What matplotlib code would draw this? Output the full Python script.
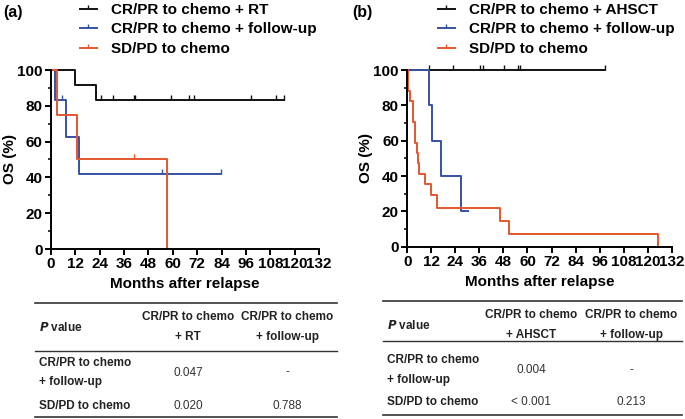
import matplotlib
matplotlib.use('Agg')
import matplotlib.pyplot as plt
from matplotlib.lines import Line2D

plt.rcParams['font.family'] = ['Liberation Sans', 'DejaVu Sans']
plt.rcParams['font.weight'] = 'bold'

BLACK = '#111111'
BLUE = '#3552a3'
RED = '#e4572e'

# --- panel (a) ---
a_rt_t = [0, 12, 22, 115]
a_rt_s = [100, 91.7, 83.3, 83.3]
a_rt_cens = [24.6, 30.5, 40.7, 41.5, 59, 68, 70.3, 98.5, 111, 115]

a_fu_t = [0, 1.8, 7.6, 13.9, 83.7]
a_fu_s = [100, 83.3, 62.5, 41.7, 41.7]
a_fu_cens_t = [5.5, 54.7, 83.7]
a_fu_cens_s = [83.3, 41.7, 41.7]

a_sd_t = [0, 2.8, 13.0, 57.3]
a_sd_s = [100, 75, 50, 0]
a_sd_cens_t = [41]
a_sd_cens_s = [50]

# --- panel (b) ---
b_ah_t = [0, 98.7]
b_ah_s = [100, 100]
b_ah_cens = [10.8, 22.6, 36.3, 37.6, 48.4, 55.4, 56.3, 98.7]

b_fu_t = [0, 11.0, 12.5, 16.8, 26.8, 30.5]
b_fu_s = [100, 80, 60, 40, 20, 20]

b_sd_t = [0, 0.3, 1.4, 2.7, 3.8, 4.7, 5.2, 5.8, 8.9, 12.0, 14.7, 46.3, 50.6, 125.3]
b_sd_s = [100, 88.2, 82.4, 70.6, 58.8, 52.9, 47.1, 41.2, 35.3, 29.4, 22.1, 14.7, 7.4, 0]

labels_a = ['CR/PR to chemo + RT', 'CR/PR to chemo + follow-up', 'SD/PD to chemo']
labels_b = ['CR/PR to chemo + AHSCT', 'CR/PR to chemo + follow-up', 'SD/PD to chemo']

# p value tables
tab_a_cols = [('CR/PR to chemo', '+ RT'), ('CR/PR to chemo', '+ follow-up')]
tab_a_vals = [['0.047', '-'], ['0.020', '0.788']]
tab_b_cols = [('CR/PR to chemo', '+ AHSCT'), ('CR/PR to chemo', '+ follow-up')]
tab_b_vals = [['0.004', '-'], ['< 0.001', '0.213']]
row_labels = [('CR/PR to chemo', '+ follow-up'), ('SD/PD to chemo',)]

W, H = 685, 419
fig = plt.figure(figsize=(W / 100, H / 100), dpi=100)


def px(x0, y0, x1, y1):
    return [x0 / W, 1 - y1 / H, (x1 - x0) / W, (y1 - y0) / H]


def style_axes(ax):
    ax.set_xlim(0, 132)
    ax.set_ylim(0, 100)
    ax.set_xticks(range(0, 133, 12))
    ax.set_yticks(range(0, 101, 20))
    ax.set_yticks(range(10, 100, 20), minor=True)
    for s in ['top', 'right']:
        ax.spines[s].set_visible(False)
    for s in ['left', 'bottom']:
        ax.spines[s].set_linewidth(1.4)
    ax.tick_params(which='major', length=4, width=1.4, labelsize=11, pad=2)
    ax.tick_params(which='minor', length=2.5, width=1.1)
    for lab in ax.get_xticklabels() + ax.get_yticklabels():
        lab.set_fontweight('bold')
    ax.set_xlabel('Months after relapse', fontsize=11, fontweight='bold', labelpad=4)
    ax.set_ylabel('OS (%)', fontsize=11, fontweight='bold', labelpad=0)


def km(ax, t, s, color):
    ax.step(t, s, where='post', color=color, lw=1.4, clip_on=False)


def cens(ax, t, s, color):
    ax.plot(t, s, linestyle='none', marker=2, markersize=3.5, mew=1.0,
            color=color, clip_on=False)


def legend(ax, labels, x0):
    handles = [Line2D([0], [0], color=c, lw=1.4, marker=2, markersize=3, mew=1.0)
               for c in [BLACK, BLUE, RED]]
    fig.legend(handles, labels, loc='upper left',
               bbox_to_anchor=(x0 / W, 1 - 3 / H), frameon=False,
               prop={'size': 11, 'weight': 'bold'}, numpoints=1,
               handlelength=1.1, handletextpad=0.95, labelspacing=0.36,
               borderpad=0, borderaxespad=0)


# panel a
ax1 = fig.add_axes(px(51, 70, 319, 249))
km(ax1, a_rt_t, a_rt_s, BLACK)
cens(ax1, a_rt_cens, [83.3] * len(a_rt_cens), BLACK)
km(ax1, a_fu_t, a_fu_s, BLUE)
cens(ax1, a_fu_cens_t, a_fu_cens_s, BLUE)
km(ax1, a_sd_t, a_sd_s, RED)
cens(ax1, a_sd_cens_t, a_sd_cens_s, RED)
style_axes(ax1)
legend(ax1, labels_a, 80)
fig.text(3 / W, 1 - 13 / H, '(a)', fontsize=11.5, fontweight='bold', va='center')

# panel b
ax2 = fig.add_axes(px(407.3, 70, 671.7, 246.7))
km(ax2, b_ah_t, b_ah_s, BLACK)
cens(ax2, b_ah_cens, [100] * len(b_ah_cens), BLACK)
km(ax2, b_fu_t, b_fu_s, BLUE)
km(ax2, b_sd_t, b_sd_s, RED)
style_axes(ax2)
legend(ax2, labels_b, 438)
fig.text(352 / W, 1 - 13 / H, '(b)', fontsize=11.5, fontweight='bold', va='center')


def hline(x0, x1, y, lw=1.2):
    fig.add_artist(Line2D([x0 / W, x1 / W], [1 - y / H, 1 - y / H],
                          color='#333333', lw=lw))


def txt(x, y, s, ha='left', weight='bold', color='#222222', style='normal'):
    fig.text(x / W, 1 - y / H, s, ha=ha, va='center', fontsize=8.5,
             fontweight=weight, color=color, style=style)


def table(x0, x1, ytop, yhead, ybot, cols, vals, colx, yh1, yh2, rows_y, vals_y):
    hline(x0, x1, ytop)
    hline(x0, x1, yhead, lw=1.0)
    hline(x0, x1, ybot)
    fig.text((x0 + 4) / W, 1 - (yh1 + yh2) / 2 / H, r'$\mathbf{\mathit{P}}$ value',
             ha='left', va='center', fontsize=8.5, fontweight='bold', color='#222222')
    for (l1, l2), cx in zip(cols, colx):
        txt(cx, yh1, l1, ha='center')
        txt(cx, yh2, l2, ha='center')
    for lines, ys in zip(row_labels, rows_y):
        for line, y in zip(lines, ys):
            txt(x0 + 4, y, line)
    for rv, y in zip(vals, vals_y):
        for v, cx in zip(rv, colx):
            txt(cx, y, v, ha='center', weight='normal', color='#333333')


table(35, 337, 303, 351, 416.5, tab_a_cols, tab_a_vals, [188, 287], 317, 337,
      [(362.7, 381.7), (406,)], [372.5, 406])
table(383, 682, 301, 341, 415, tab_b_cols, tab_b_vals, [531, 631], 315, 335,
      [(360, 380), (401.7,)], [370, 401.7])

fig.savefig('out.png', dpi=100)
